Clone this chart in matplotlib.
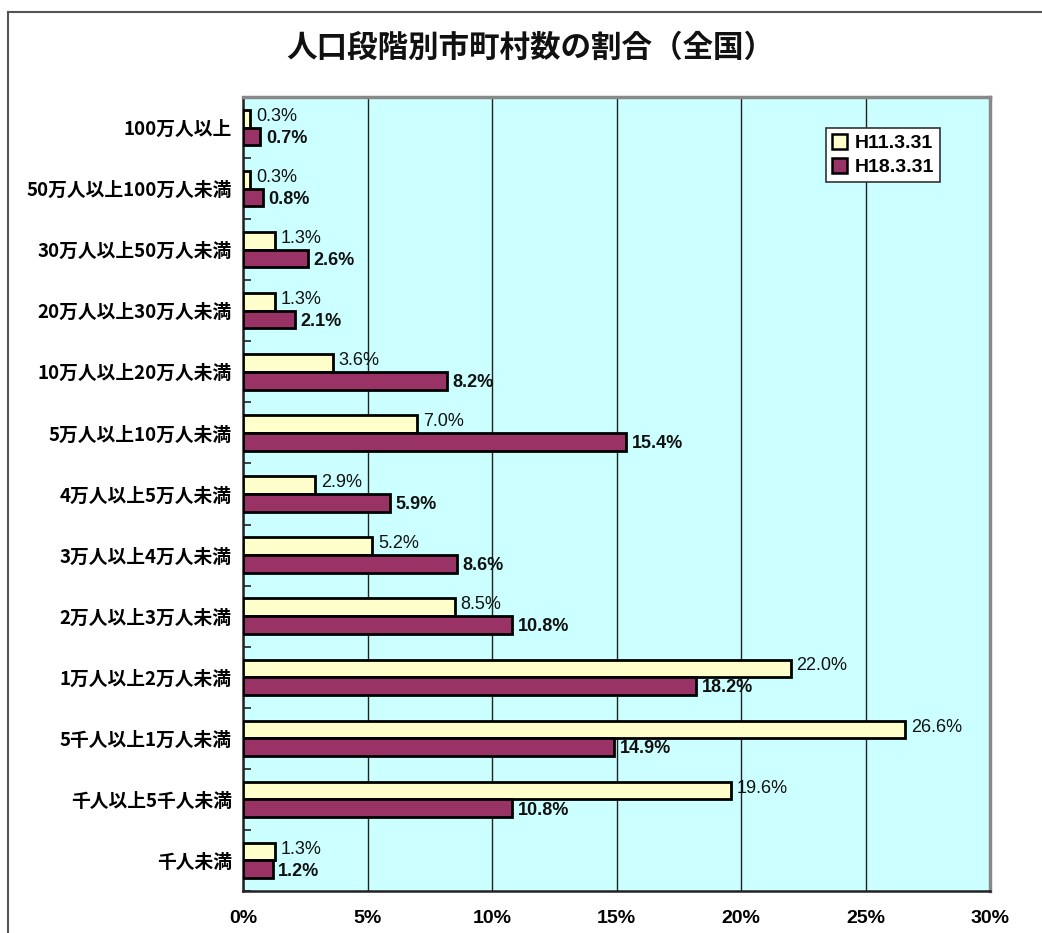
import matplotlib
matplotlib.use("Agg")
import matplotlib.pyplot as plt
import numpy as np
from matplotlib.lines import Line2D

plt.rcParams['font.family'] = ['Noto Sans CJK JP', 'DejaVu Sans']

# Population bands (municipalities), share of all municipalities in Japan
categories = ["100万人以上", "50万人以上100万人未満", "30万人以上50万人未満",
              "20万人以上30万人未満", "10万人以上20万人未満", "5万人以上10万人未満",
              "4万人以上5万人未満", "3万人以上4万人未満", "2万人以上3万人未満",
              "1万人以上2万人未満", "5千人以上1万人未満", "千人以上5千人未満", "千人未満"]
h11 = [0.3, 0.3, 1.3, 1.3, 3.6, 7.0, 2.9, 5.2, 8.5, 22.0, 26.6, 19.6, 1.3]
h18 = [0.7, 0.8, 2.6, 2.1, 8.2, 15.4, 5.9, 8.6, 10.8, 18.2, 14.9, 10.8, 1.2]
series_names = ["H11.3.31", "H18.3.31"]
xticks = [0, 5, 10, 15, 20, 25, 30]
title = "人口段階別市町村数の割合（全国）"

c_h11 = "#FFFFCC"
c_h18 = "#993366"
bg = "#CCFFFF"

W, H = 1042, 933
fig = plt.figure(figsize=(W / 100, H / 100), dpi=100)
fig.patch.set_facecolor("white")

# outer frame (top and left edges visible)
fig.add_artist(Line2D([8 / W, 1.0], [1 - 12 / H, 1 - 12 / H], color="#555555", lw=1.5,
                      transform=fig.transFigure))
fig.add_artist(Line2D([8 / W, 8 / W], [0, 1 - 12 / H], color="#555555", lw=1.5,
                      transform=fig.transFigure))

ax = fig.add_axes([243 / W, 1 - 891 / H, (990 - 243) / W, (891 - 97) / H])
ax.set_facecolor(bg)

y = np.arange(len(categories))
bh = 0.29
ax.barh(y - bh / 2, h11, height=bh, color=c_h11, edgecolor="black", linewidth=2.0,
        label=series_names[0], zorder=3)
ax.barh(y + bh / 2, h18, height=bh, color=c_h18, edgecolor="black", linewidth=2.0,
        label=series_names[1], zorder=3)

for yi, v in zip(y, h11):
    ax.text(v + 0.22, yi - bh / 2 - 0.04, f"{v:.1f}%", va="center", ha="left",
            fontsize=13, family="Liberation Sans", color="#111111", zorder=4)
for yi, v in zip(y, h18):
    ax.text(v + 0.22, yi + bh / 2 + 0.03, f"{v:.1f}%", va="center", ha="left",
            fontsize=13, family="Liberation Sans", fontweight="bold", color="#111111", zorder=4)

ax.set_xlim(0, 30)
ax.set_ylim(len(categories) - 0.5, -0.5)
ax.set_xticks(xticks)
ax.set_xticklabels([f"{t}%" for t in xticks], fontsize=14, fontweight="bold",
                   family="Liberation Sans")
ax.tick_params(axis="x", length=0, pad=14)
ax.xaxis.grid(True, color="#222222", linewidth=1.0, zorder=1)
ax.set_axisbelow(True)

ax.set_yticks(y)
ax.set_yticklabels(categories, fontsize=13.5, fontweight="bold")
ax.tick_params(axis="y", length=0, pad=8)
ax.set_yticks(np.arange(-0.5, len(categories), 1.0), minor=True)
ax.tick_params(axis="y", which="minor", direction="in", length=6, width=1.2, color="#222222")

for side in ("top", "right"):
    ax.spines[side].set_color("#888888")
    ax.spines[side].set_linewidth(2.5)
for side in ("left", "bottom"):
    ax.spines[side].set_color("#222222")
    ax.spines[side].set_linewidth(1.8)

leg = ax.legend(loc="upper left", bbox_to_anchor=((826 - 243) / 747, 1 - (128 - 97) / 794),
                frameon=True, fancybox=False, edgecolor="#333333", framealpha=1.0,
                prop={"family": "Liberation Sans", "weight": "bold", "size": 14},
                handlelength=0.8, handleheight=0.8, handletextpad=0.4, borderpad=0.3,
                labelspacing=0.3, borderaxespad=0)
leg.get_frame().set_linewidth(1.2)
for hnd in leg.legend_handles:
    hnd.set_linewidth(1.8)

fig.text(530 / W, 1 - 48 / H, title, ha="center", va="center", fontsize=22,
         fontweight="bold", color="#111111")

fig.savefig("out.png", dpi=100, facecolor="white")
